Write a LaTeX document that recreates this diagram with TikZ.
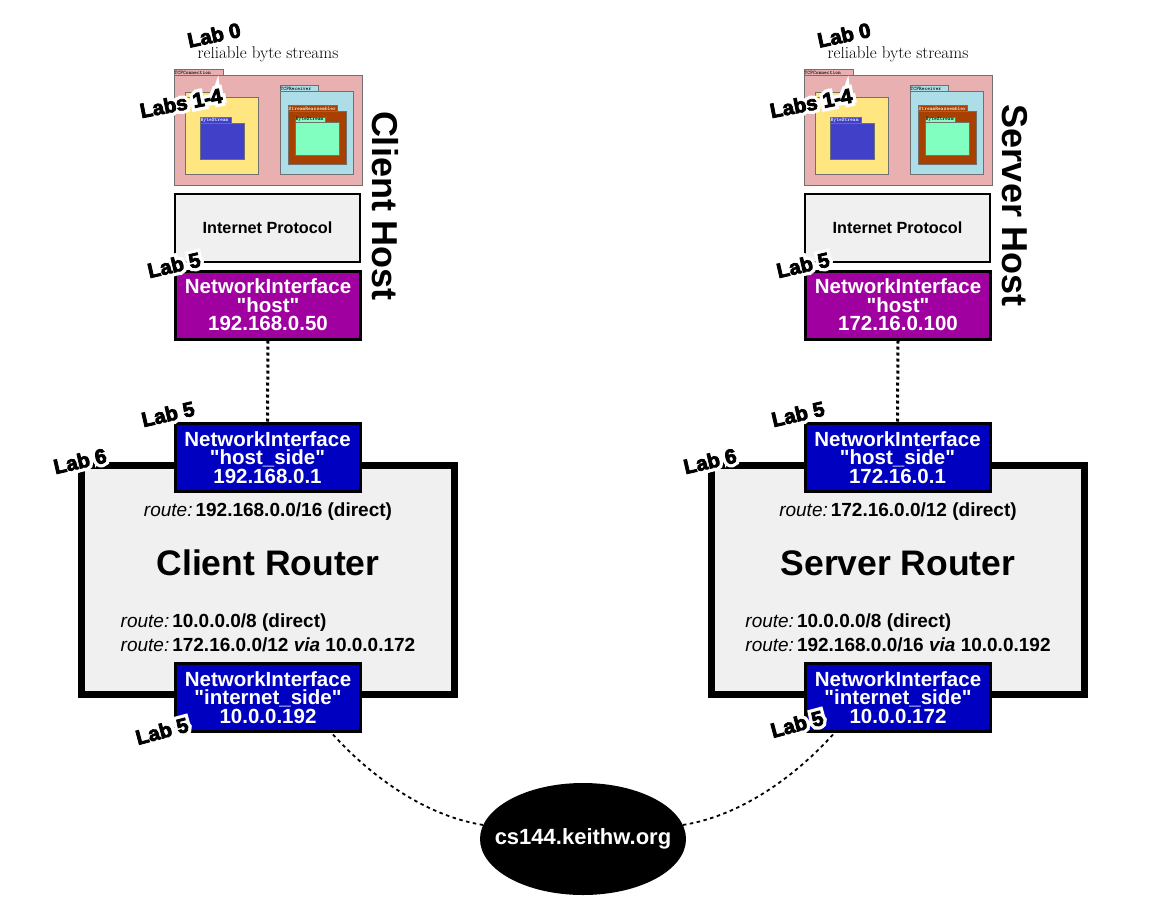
\documentclass[tikz,border=0pt]{standalone}
\usepackage{fontspec}
\setsansfont{Liberation Sans}[Ligatures=TeXOff]
\newfontfamily\halofont{Liberation Sans Bold}[FakeBold=36]
\newfontfamily\labface{Liberation Sans Bold}[FakeBold=4]
\usetikzlibrary{shapes.geometric,calc}
\definecolor{pkpink}{HTML}{E8B0B0}
\definecolor{pkyellow}{HTML}{FFE680}
\definecolor{pkblue}{HTML}{4040C8}
\definecolor{pklblue}{HTML}{ADDDE6}
\definecolor{pkbrown}{HTML}{A84000}
\definecolor{pkgreen}{HTML}{80FFC0}
\definecolor{boxgray}{HTML}{F0F0F0}
\definecolor{nipurple}{HTML}{A000A0}
\definecolor{niblue}{HTML}{0000C0}
\definecolor{pkedge}{HTML}{707070}
\tikzset{
 pkgline/.style={draw=pkedge, line width=0.8pt},
 pkglabel/.style={font=\ttfamily\bfseries\fontsize{5.3}{5.3}\selectfont, inner sep=0.5pt, anchor=south west},
 ipbox/.style={draw=black, line width=1.5pt, fill=boxgray, minimum width=185pt, minimum height=68pt, inner sep=0pt, font=\sffamily\bfseries\fontsize{16.2}{16}\selectfont},
 nibox/.style={draw=black, line width=3pt, minimum width=185pt, minimum height=68pt, inner sep=0pt, align=center, text=white, font=\sffamily\bfseries\fontsize{20.5}{18.5}\selectfont},
 router/.style={draw=black, line width=7pt, fill=boxgray, minimum width=373pt, minimum height=229pt, inner sep=0pt},
 routertitle/.style={font=\sffamily\bfseries\fontsize{35.5}{35}\selectfont, inner sep=0pt},
 routeline/.style={font=\sffamily\fontsize{19}{24}\selectfont, inner sep=0pt, align=left},
 hosttitle/.style={font=\sffamily\bfseries\fontsize{36}{36}\selectfont, rotate=-90, inner sep=0pt},
 labfont/.style={font=\labface\fontsize{20.5}{20.5}\selectfont, inner sep=0pt},
 halofont/.style={font=\halofont\fontsize{20.5}{20.5}\selectfont, inner sep=0pt, text=white},
 caption/.style={font=\fontsize{17}{17}\selectfont, inner sep=0pt},
 link/.style={line width=3pt, dash pattern=on 3pt off 3pt},
 wan/.style={line width=1.8pt, dash pattern=on 3.5pt off 3.5pt},
 cloud/.style={ellipse, fill=black, minimum width=206pt, minimum height=112pt, inner sep=0pt},
 cloudtext/.style={text=white, inner sep=0pt, font=\sffamily\bfseries\fontsize{22}{22}\selectfont},
}
\newcommand{\umlpkg}[9]{%
  \draw[pkgline, fill=#7] (#1,#6) rectangle (#5,#2);
  \draw[pkgline, fill=#7] (#1,#2) rectangle (#3,#4);
  \node[pkglabel, text=#9] at (#1,#2) {#8};
}
\newcommand{\labtag}[4]{%
  \node[halofont, rotate=#3] at (#2) {#4};
  \node[labfont, rotate=#3] (#1) at (#2) {#4};
}
\newcommand{\rt}{{\itshape route:}\hspace{3pt}}
\begin{document}
\begin{tikzpicture}[x=1pt,y=-1pt]
\fill[white] (0,0) rectangle (1168,908);
\useasboundingbox (0,0) rectangle (1168,908);

% ---------- client side ----------
\umlpkg{174}{75}{362}{185}{223}{69}{pkpink}{TCPConnection}{black}
\umlpkg{185}{97}{258}{174}{222}{92}{pkyellow}{}{black}
\umlpkg{200}{123}{244}{159}{231}{117}{pkblue}{ByteStream}{white}
\umlpkg{280}{91}{353}{174}{318}{85}{pklblue}{TCPReceiver}{black}
\umlpkg{288}{111}{346}{164}{337}{105}{pkbrown}{StreamReassembler}{white}
\umlpkg{295}{122}{339}{155}{325}{117}{pkgreen}{ByteStream}{black}
\node[caption] (rbsC) at (268,54) {reliable byte streams};
\node[ipbox] (ipC) at (267.5,228) {Internet Protocol};
\node[nibox, fill=nipurple] (hostC) at (268,305) {NetworkInterface\\"host"\\192.168.0.50};
\node[hosttitle] (hnC) at (385,206) {Client Host};
\node[router] (rtC) at (268,580) {};
\node[nibox, fill=niblue] (hsC) at (267.5,457.5) {NetworkInterface\\"host\_side"\\192.168.0.1};
\node[nibox, fill=niblue] (isC) at (268,697.5) {NetworkInterface\\"internet\_side"\\10.0.0.192};
\node[routeline] (r1C) at (268,512) {\rt\textbf{192.168.0.0/16 (direct)}};
\node[routertitle] (rnC) at (268,563) {Client Router};
\node[routeline] (r2C) at (268,633) {\rt\textbf{10.0.0.0/8 (direct)}\\\rt\textbf{172.16.0.0/12 \textit{via} 10.0.0.172}};
\draw[link] (hostC.south) -- (hsC.north);

% ---------- server side ----------
\begin{scope}[xshift=630pt]
\umlpkg{174}{75}{362}{185}{223}{69}{pkpink}{TCPConnection}{black}
\umlpkg{185}{97}{258}{174}{222}{92}{pkyellow}{}{black}
\umlpkg{200}{123}{244}{159}{231}{117}{pkblue}{ByteStream}{white}
\umlpkg{280}{91}{353}{174}{318}{85}{pklblue}{TCPReceiver}{black}
\umlpkg{288}{111}{346}{164}{337}{105}{pkbrown}{StreamReassembler}{white}
\umlpkg{295}{122}{339}{155}{325}{117}{pkgreen}{ByteStream}{black}
\node[caption] (rbsS) at (268,54) {reliable byte streams};
\node[ipbox] (ipS) at (267.5,228) {Internet Protocol};
\node[nibox, fill=nipurple] (hostS) at (268,305) {NetworkInterface\\"host"\\172.16.0.100};
\node[hosttitle] (hnS) at (385,206) {Server Host};
\node[router] (rtS) at (268,580) {};
\node[nibox, fill=niblue] (hsS) at (267.5,457.5) {NetworkInterface\\"host\_side"\\172.16.0.1};
\node[nibox, fill=niblue] (isS) at (268,697.5) {NetworkInterface\\"internet\_side"\\10.0.0.172};
\node[routeline] (r1S) at (268,512) {\rt\textbf{172.16.0.0/12 (direct)}};
\node[routertitle] (rnS) at (268,563) {Server Router};
\node[routeline] (r2S) at (268,633) {\rt\textbf{10.0.0.0/8 (direct)}\\\rt\textbf{192.168.0.0/16 \textit{via} 10.0.0.192}};
\draw[link] (hostS.south) -- (hsS.north);
\end{scope}

% ---------- internet ----------
\node[cloud] (inet) at (583,839) {};
\node[cloudtext] (inetT) at (inet.center) {cs144.keithw.org};
\coordinate (wC) at ($(isC.south)+(65,1.5)$);
\coordinate (wS) at ($(isS.south)+(-65,1.5)$);
\draw[wan] (wC) .. controls (365,770) and (420,815) .. (inet.172);
\draw[wan] (inet.8) .. controls (746,815) and (801,770) .. (wS);

% ---------- lab tags ----------
\labtag{lab0C}{214,35}{12}{Lab 0}
\labtag{lab14C}{181,103}{11}{Labs 1-4}
\labtag{lab5aC}{174,265}{13}{Lab 5}
\labtag{lab5bC}{168,414}{13}{Lab 5}
\labtag{lab6C}{80,461}{13}{Lab 6}
\labtag{lab5cC}{162,731}{15}{Lab 5}
\labtag{lab0S}{844,35}{12}{Lab 0}
\labtag{lab14S}{811,103}{11}{Labs 1-4}
\labtag{lab5aS}{803,265}{13}{Lab 5}
\labtag{lab5bS}{798,414}{13}{Lab 5}
\labtag{lab6S}{710,461}{13}{Lab 6}
\labtag{lab5cS}{797,724}{15}{Lab 5}
\end{tikzpicture}
\end{document}
